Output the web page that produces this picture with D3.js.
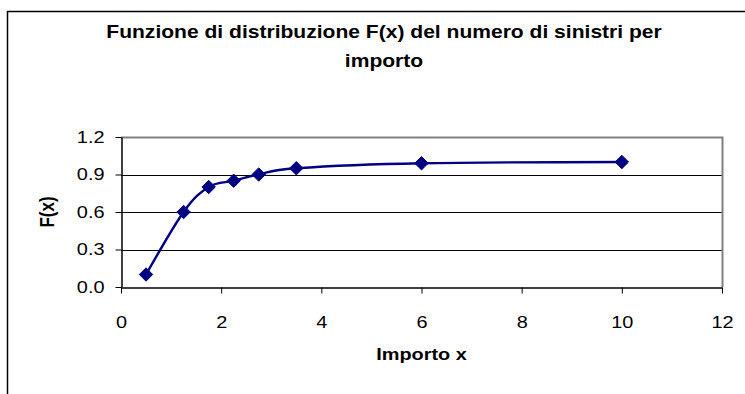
<!DOCTYPE html>
<html>
<head>
<meta charset="utf-8">
<script src="https://cdn.jsdelivr.net/npm/d3@7"></script>
<style>
  html, body { margin: 0; padding: 0; background: #fff; }
  svg { display: block; }
</style>
</head>
<body>
<svg id="chart" width="745" height="394"></svg>
<script>
const xValues = [0.5, 1.25, 1.75, 2.25, 2.75, 3.5, 6, 10];
const yValues = [0.1, 0.6, 0.8, 0.85, 0.9, 0.95, 0.99, 1.0];
const xTicks = [0, 2, 4, 6, 8, 10, 12];
const yTicks = [0.0, 0.3, 0.6, 0.9, 1.2];
const titleLines = ["Funzione di distribuzione F(x) del numero di sinistri per", "importo"];
const xTitle = "Importo x";
const yTitle = "F(x)";

const data = xValues.map((x, i) => ({ x, y: yValues[i] }));

const svg = d3.select("#chart");
const plot = { left: 121, right: 722, top: 137, bottom: 287 };
const font = "'Liberation Sans', Arial, sans-serif";
const SX = 1.17; // horizontal stretch of the reference's text

// Outer chart frame
svg.append("rect")
  .attr("x", 7.5).attr("y", 11.5)
  .attr("width", 760).attr("height", 400)
  .attr("fill", "#fff").attr("stroke", "#000").attr("stroke-width", 1.5);

const x = d3.scaleLinear().domain([0, 12]).range([plot.left, plot.right]);
const y = d3.scaleLinear().domain([0, 1.2]).range([plot.bottom, plot.top]);

// Gridlines
svg.append("g").selectAll("line")
  .data(yTicks.filter(t => t > 0 && t < 1.2))
  .join("line")
  .attr("x1", plot.left).attr("x2", plot.right)
  .attr("y1", d => Math.round(y(d)) + 0.5).attr("y2", d => Math.round(y(d)) + 0.5)
  .attr("stroke", "#000").attr("stroke-width", 1);

// Plot area border (gray top/right)
svg.append("path")
  .attr("d", `M${plot.left},${plot.top + 0.5}H${plot.right + 0.5}V${plot.bottom}`)
  .attr("fill", "none").attr("stroke", "#808080").attr("stroke-width", 2);

// X axis
const xAxis = svg.append("g")
  .attr("transform", `translate(0,${plot.bottom + 0.5})`)
  .call(d3.axisBottom(x).tickValues(xTicks).tickFormat(d3.format("d")).tickSizeInner(6).tickSizeOuter(0).tickPadding(22));
xAxis.select(".domain").attr("stroke", "#000").attr("stroke-width", 1.5);
xAxis.selectAll(".tick line").attr("stroke", "#000");
xAxis.selectAll("text")
  .attr("font-family", font).attr("font-size", 17).attr("fill", "#000")
  .attr("transform", `scale(${SX},1)`);

// Y axis
const yPad = 11, yTick = 6;
const yAxis = svg.append("g")
  .attr("transform", `translate(${plot.left + 0.5},0)`)
  .call(d3.axisLeft(y).tickValues(yTicks).tickFormat(d3.format(".1f")).tickSizeInner(yTick).tickSizeOuter(0).tickPadding(yPad));
yAxis.select(".domain").attr("stroke", "#000").attr("stroke-width", 1.5);
yAxis.selectAll(".tick line").attr("stroke", "#000");
yAxis.selectAll("text")
  .attr("font-family", font).attr("font-size", 17).attr("fill", "#000")
  .attr("x", -(yPad + yTick) / SX)
  .attr("transform", `scale(${SX},1)`);

// Line
const line = d3.line()
  .x(d => x(d.x)).y(d => y(d.y))
  .curve(d3.curveCatmullRom.alpha(0));
svg.append("path")
  .datum(data)
  .attr("d", line)
  .attr("fill", "none").attr("stroke", "#000080").attr("stroke-width", 2.4);

// Diamond markers
const sym = d3.symbol().type(d3.symbolDiamond2).size(115);
svg.append("g").selectAll("path")
  .data(data)
  .join("path")
  .attr("d", sym)
  .attr("transform", d => `translate(${x(d.x)},${y(d.y)})`)
  .attr("fill", "#000080").attr("stroke", "#000080").attr("stroke-width", 1);

// Title
svg.append("g")
  .attr("transform", `translate(384,0) scale(${SX},1)`)
  .append("text")
  .attr("text-anchor", "middle")
  .attr("font-family", font).attr("font-size", 18).attr("font-weight", "bold")
  .selectAll("tspan").data(titleLines).join("tspan")
  .attr("x", 0).attr("y", (d, i) => 38 + i * 29)
  .text(d => d);

// Axis titles
svg.append("g")
  .attr("transform", `translate(${(plot.left + plot.right) / 2},360) scale(${SX},1)`)
  .append("text")
  .attr("text-anchor", "middle")
  .attr("font-family", font).attr("font-size", 17).attr("font-weight", "bold")
  .text(xTitle);

svg.append("g")
  .attr("transform", `translate(54,${(plot.top + plot.bottom) / 2}) scale(${SX},1) rotate(-90)`)
  .append("text")
  .attr("text-anchor", "middle")
  .attr("font-family", font).attr("font-size", 17).attr("font-weight", "bold")
  .text(yTitle);
</script>
</body>
</html>
